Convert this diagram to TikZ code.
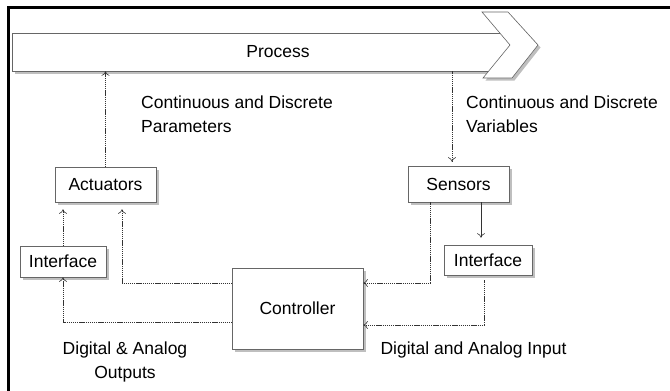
\documentclass[tikz,border=0pt]{standalone}
\usepackage{fontspec}
\setmainfont{Liberation Sans}
\usetikzlibrary{shapes,arrows,arrows.meta,shadows}
\tikzstyle{outline} = [draw=black!60, fill=white, line width=0.6pt,
    drop shadow={shadow xshift=2.5pt, shadow yshift=-2.5pt, fill=black!50}]
\tikzstyle{unit} = [outline, rectangle, inner sep=0pt,
    font=\fontsize{17.5}{24}\selectfont]
\tikzstyle{link} = [draw=black!80, line width=0.6pt, dash pattern=on 1.2pt off 0.7pt,
    -{To[length=4.5pt, width=8pt]}]
\tikzstyle{note} = [inner sep=0pt, font=\fontsize{17.5}{24}\selectfont]

\begin{document}
\begin{tikzpicture}[x=1pt, y=-1pt]
\useasboundingbox (0,0) rectangle (670,391);
\draw[line width=3pt] (8,391) -- (8,7.5) -- (670,7.5);

    % Place nodes
\node[unit, minimum width=498, minimum height=38] (process) at (261,52) {};
\draw[outline] (482,12) -- (508,12) -- (538,45) -- (512,78) -- (483,78) -- (510,45) -- cycle;
\node[note] (proclabel) at (278,52) {Process};
\node[unit, minimum width=101, minimum height=35] (act) at (105.5,184.5) {Actuators};
\node[unit, minimum width=86, minimum height=31] (intL) at (63,261.5) {Interface};
\node[unit, minimum width=101, minimum height=36] (sens) at (458.5,184) {Sensors};
\node[unit, minimum width=88, minimum height=30] (intR) at (488,260) {Interface};
\node[unit, minimum width=131, minimum height=81] (ctrl) at (297.5,308.5) {Controller};
\node[note, align=left, anchor=west] (param) at (141,114) {Continuous and Discrete\\Parameters};
\node[note, align=left, anchor=west] (vars) at (466,114) {Continuous and Discrete\\Variables};
\node[note, align=center] (outs) at (125,362) {Digital \& Analog\\Outputs};
\node[note] (ins) at (473.5,350) {Digital and Analog Input};

    % Draw edges
\path[link] (act.north) -- (act.north |- process.south);
\path[link, shorten >=4] ([xshift=-6.5]sens.north |- process.south) -- ([xshift=-6.5]sens.north);
\path[link, shorten >=7] (intL.north) -- (intL.north |- act.south);
\path[link, shorten >=7] ([yshift=25.5]ctrl.west) -| ([xshift=16.5]act.south);
\path[link] ([yshift=-13.5]ctrl.west) -| (intL.south);
\path[link] ([xshift=-28.5]sens.south) |- ([yshift=25.5]ctrl.east);
\path[link, solid, shorten >=7] ([xshift=22.5]sens.south) -- ([xshift=22.5]sens.south |- intR.north);
\path[link, shorten <=5] ([xshift=-4]intR.south) |- ([yshift=-16.5]ctrl.east);

\end{tikzpicture}
\end{document}
